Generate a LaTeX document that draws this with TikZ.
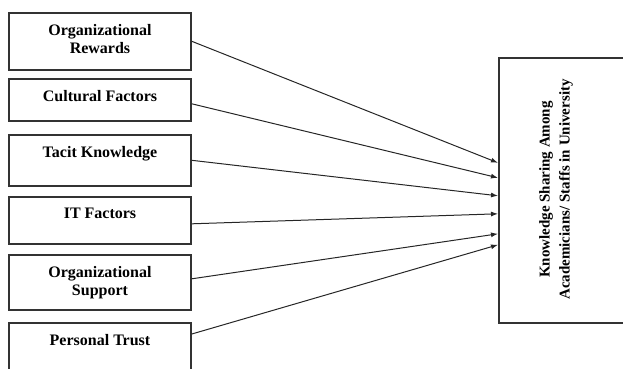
\documentclass[tikz,border=0pt]{standalone}
\usepackage{fontspec}
\setmainfont{Liberation Serif}
\usetikzlibrary{arrows.meta}
\tikzset{>={Latex[length=7pt,width=5pt]}}
\begin{document}
\begin{tikzpicture}[x=1pt, y=-1pt,
		factor/.style={rectangle, draw=black!80, line width=1.6pt, minimum width=182pt, anchor=north, inner sep=0pt},
		ftext/.style={anchor=north, yshift=-12pt, inner sep=0pt, align=center, font=\bfseries\fontsize{16}{18}\selectfont},
		outcome/.style={rectangle, draw=black!80, line width=1.6pt, minimum width=150pt, minimum height=265pt, anchor=north west, inner sep=0pt},
		otext/.style={rotate=90, inner sep=0pt, align=center, font=\bfseries\fontsize{15}{20}\selectfont},
		link/.style={->, draw=black!85, line width=1pt}]
		\clip (0,0) rectangle (623,368);
		\node[factor, minimum height=57pt, label={[ftext]north:Organizational\\Rewards}] (1) at (100,12) {};
		\node[factor, minimum height=42pt, label={[ftext]north:Cultural Factors}] (2) at (100,78) {};
		\node[factor, minimum height=51pt, label={[ftext]north:Tacit Knowledge}] (3) at (100,134) {};
		\node[factor, minimum height=47pt, label={[ftext]north:IT Factors}] (4) at (100,196) {};
		\node[factor, minimum height=55pt, label={[ftext]north:Organizational\\Support}] (5) at (100,254) {};
		\node[factor, minimum height=60pt, label={[ftext]north:Personal Trust}] (6) at (100,322) {};
		\node[outcome] (7) at (498,57) {};
		\node[otext] (8) at (556,189.5) {Knowledge Sharing Among\\Academicians/ Staffs in University};

		\draw[link] (1.east) -- ([yshift=27.5pt]7.west);
		\draw[link] ([yshift=-4pt]2.east) -- ([yshift=12.5pt]7.west);
		\draw[link] (3.east) -- ([yshift=-5.5pt]7.west);
		\draw[link] ([yshift=-3.5pt]4.east) -- ([yshift=-23.5pt]7.west);
		\draw[link] ([yshift=3.5pt]5.east) -- ([yshift=-43.5pt]7.west);
		\draw[link] ([yshift=-12pt]6.north east) -- ([yshift=-54.5pt]7.west);
	\end{tikzpicture}
\end{document}
